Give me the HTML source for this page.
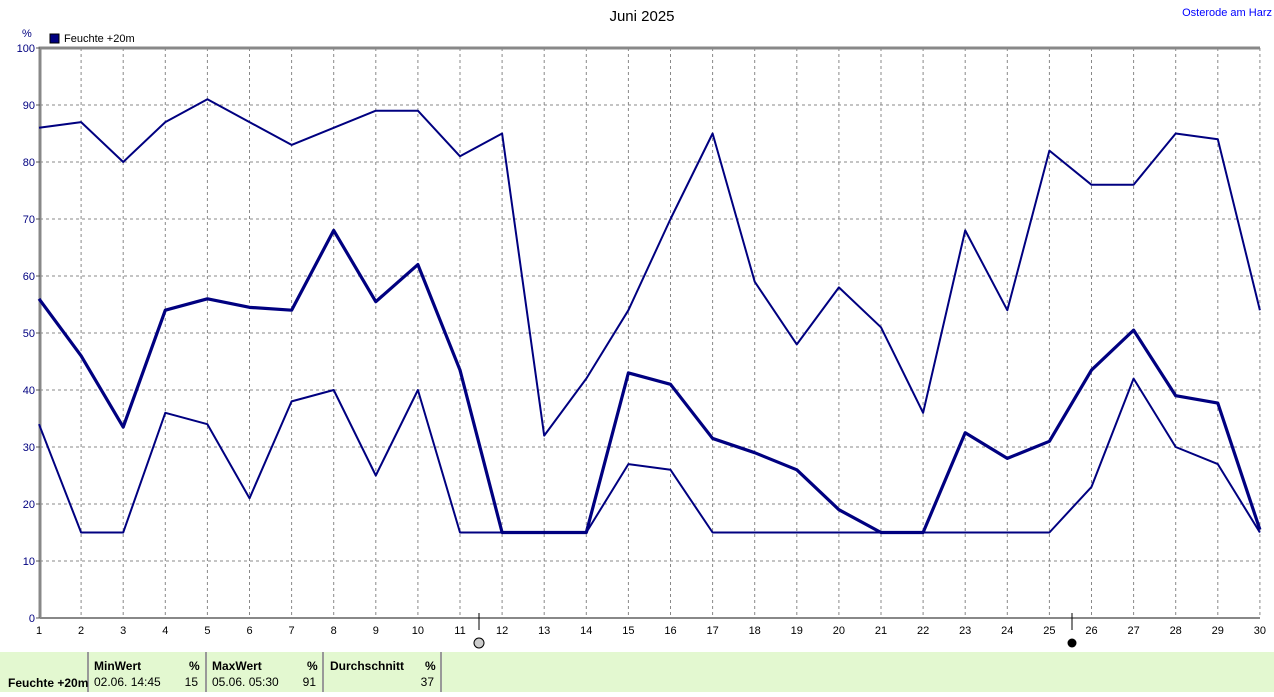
<!DOCTYPE html><html><head><meta charset="utf-8"><style>
body{margin:0;background:#fff;width:1274px;height:692px;overflow:hidden;font-family:"Liberation Sans",sans-serif}
svg text{font-family:"Liberation Sans",sans-serif}
</style></head><body>
<svg id="s" width="1274" height="692" xmlns="http://www.w3.org/2000/svg">
<rect x="0" y="652" width="1274" height="40" fill="#e3f8d0"/>
<g stroke="#999" stroke-width="2"><line x1="88" y1="652" x2="88" y2="692"/><line x1="206" y1="652" x2="206" y2="692"/><line x1="323" y1="652" x2="323" y2="692"/><line x1="441" y1="652" x2="441" y2="692"/></g>
<g font-size="12" font-weight="bold" fill="#000">
<text x="94" y="670">MinWert</text><text x="189" y="670">%</text>
<text x="212" y="670">MaxWert</text><text x="307" y="670">%</text>
<text x="330" y="670">Durchschnitt</text><text x="425" y="670">%</text>
<text x="8" y="687">Feuchte +20m</text></g>
<g font-size="12" fill="#000">
<text x="94" y="686">02.06.  14:45</text><text x="198" y="686" text-anchor="end">15</text>
<text x="212" y="686">05.06.  05:30</text><text x="316" y="686" text-anchor="end">91</text>
<text x="434" y="686" text-anchor="end">37</text></g>
<text x="642" y="21" font-size="15" text-anchor="middle">Juni 2025</text>
<text x="1272" y="16" font-size="11" fill="#0000ff" text-anchor="end">Osterode am Harz</text>
<text x="22" y="37" font-size="11" fill="#000080">%</text>
<rect x="50" y="34" width="9" height="9" fill="#000080" stroke="#000" stroke-width="1"/>
<text x="64" y="42" font-size="11">Feuchte +20m</text>
<g id="g"></g>
</svg>
<script>
const g=document.getElementById('g');let h='';
const X=d=>39+(d-1)*42.1, Y=v=>618-5.7*v;
for(let v=10;v<=90;v+=10)h+=`<line x1="40" x2="1260" y1="${Y(v)}" y2="${Y(v)}" stroke="#888" stroke-dasharray="3,3"/>`;
for(let d=2;d<=30;d++)h+=`<line x1="${X(d)}" x2="${X(d)}" y1="48" y2="618" stroke="#888" stroke-dasharray="3,3"/>`;
h+=`<polyline points="40,618 40,48 1260,48" fill="none" stroke="#888" stroke-width="3"/><line x1="40" y1="618" x2="1260" y2="618" stroke="#888" stroke-width="2"/>`;
for(let v=0;v<=100;v+=10){h+=`<text x="35" y="${Y(v)+4}" font-size="11" fill="#000080" text-anchor="end">${v}</text><line x1="36" x2="40" y1="${Y(v)}" y2="${Y(v)}" stroke="#555"/>`;}
for(let d=1;d<=30;d++)h+=`<text x="${X(d)}" y="634" font-size="11" text-anchor="middle">${d}</text>`;
h+=`<line x1="479" x2="479" y1="613" y2="630" stroke="#000"/><circle cx="479" cy="643" r="5" fill="#ccc" stroke="#000"/>`;
h+=`<line x1="1072" x2="1072" y1="613" y2="630" stroke="#000"/><circle cx="1072" cy="643" r="4.5" fill="#000"/>`;
const mx=[86,87,80,87,91,87,83,86,89,89,81,85,32,42,54,70,85,59,48,58,51,36,68,54,82,76,76,85,84,54];
const av=[56,46,33.5,54,56,54.5,54,68,55.5,62,43.5,15,15,15,43,41,31.5,29,26,19,15,15,32.5,28,31,43.5,50.5,39,37.7,15.5];
const mn=[34,15,15,36,34,21,38,40,25,40,15,15,15,15,27,26,15,15,15,15,15,15,15,15,15,23,42,30,27,15];
const pl=(a,w)=>`<polyline fill="none" stroke="#000080" stroke-width="${w}" stroke-linejoin="round" points="${a.map((v,i)=>X(i+1)+','+Y(v)).join(' ')}"/>`;
h+=pl(mx,2)+pl(mn,2)+pl(av,3.2);
g.innerHTML=h;
</script></body></html>
